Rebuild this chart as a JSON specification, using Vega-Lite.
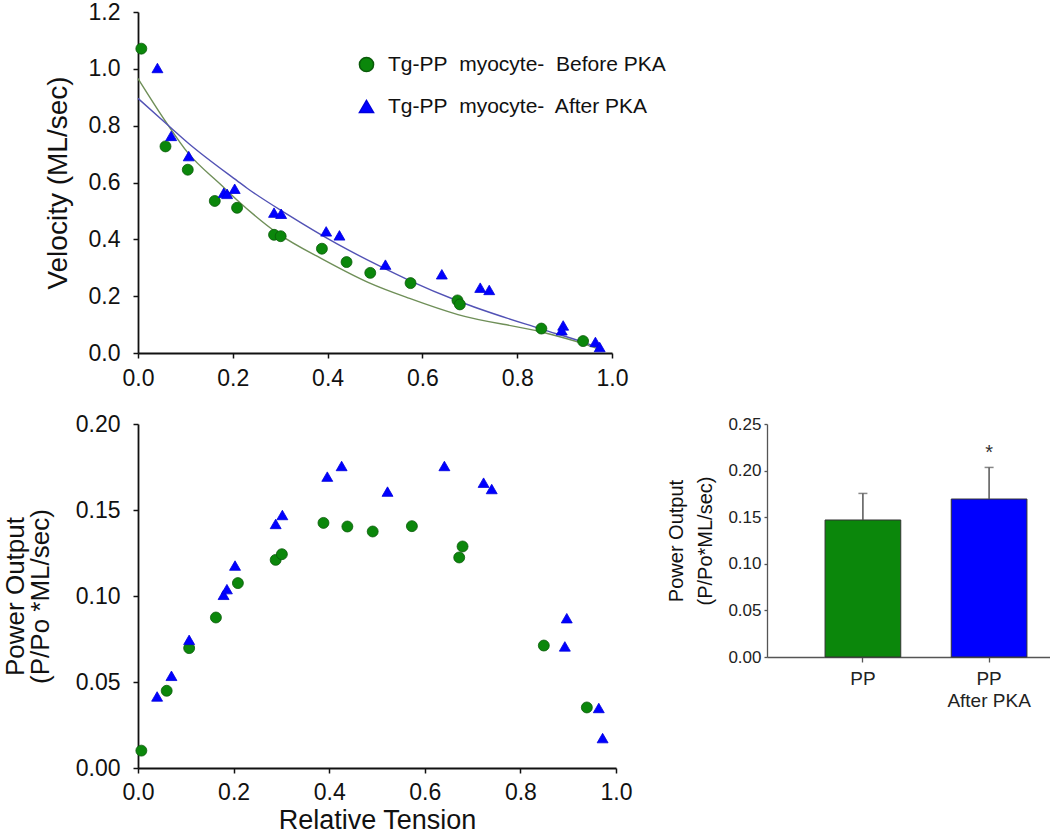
{
  "$schema": "https://vega.github.io/schema/vega-lite/v6.json",
  "background": "white",
  "padding": {"left": 2, "top": 1, "right": 0, "bottom": 0},
  "config": {
    "view": {"stroke": null},
    "font": "Liberation Sans",
    "axis": {
      "grid": false,
      "domainColor": "#111",
      "tickColor": "#111",
      "labelColor": "#111",
      "titleColor": "#111",
      "labelFont": "Liberation Sans",
      "titleFont": "Liberation Sans",
      "titleFontWeight": "normal",
      "labelFontSize": 23,
      "titleFontSize": 28,
      "tickSize": 5,
      "domainWidth": 1.8,
      "tickWidth": 1.5,
      "labelFlush": false
    },
    "legend": {"labelFont": "Liberation Sans"}
  },
  "datasets": {
    "vel": [
      {"t": 0.007, "v": 1.071, "s": "Tg-PP myocyte- Before PKA"},
      {"t": 0.058, "v": 0.727, "s": "Tg-PP myocyte- Before PKA"},
      {"t": 0.105, "v": 0.645, "s": "Tg-PP myocyte- Before PKA"},
      {"t": 0.162, "v": 0.535, "s": "Tg-PP myocyte- Before PKA"},
      {"t": 0.209, "v": 0.511, "s": "Tg-PP myocyte- Before PKA"},
      {"t": 0.287, "v": 0.416, "s": "Tg-PP myocyte- Before PKA"},
      {"t": 0.301, "v": 0.411, "s": "Tg-PP myocyte- Before PKA"},
      {"t": 0.388, "v": 0.367, "s": "Tg-PP myocyte- Before PKA"},
      {"t": 0.440, "v": 0.320, "s": "Tg-PP myocyte- Before PKA"},
      {"t": 0.490, "v": 0.282, "s": "Tg-PP myocyte- Before PKA"},
      {"t": 0.575, "v": 0.246, "s": "Tg-PP myocyte- Before PKA"},
      {"t": 0.674, "v": 0.185, "s": "Tg-PP myocyte- Before PKA"},
      {"t": 0.679, "v": 0.171, "s": "Tg-PP myocyte- Before PKA"},
      {"t": 0.851, "v": 0.086, "s": "Tg-PP myocyte- Before PKA"},
      {"t": 0.939, "v": 0.042, "s": "Tg-PP myocyte- Before PKA"},
      {"t": 0.041, "v": 1.003, "s": "Tg-PP myocyte- After PKA"},
      {"t": 0.070, "v": 0.764, "s": "Tg-PP myocyte- After PKA"},
      {"t": 0.107, "v": 0.693, "s": "Tg-PP myocyte- After PKA"},
      {"t": 0.181, "v": 0.564, "s": "Tg-PP myocyte- After PKA"},
      {"t": 0.188, "v": 0.560, "s": "Tg-PP myocyte- After PKA"},
      {"t": 0.204, "v": 0.578, "s": "Tg-PP myocyte- After PKA"},
      {"t": 0.287, "v": 0.494, "s": "Tg-PP myocyte- After PKA"},
      {"t": 0.302, "v": 0.490, "s": "Tg-PP myocyte- After PKA"},
      {"t": 0.397, "v": 0.428, "s": "Tg-PP myocyte- After PKA"},
      {"t": 0.425, "v": 0.414, "s": "Tg-PP myocyte- After PKA"},
      {"t": 0.522, "v": 0.311, "s": "Tg-PP myocyte- After PKA"},
      {"t": 0.641, "v": 0.277, "s": "Tg-PP myocyte- After PKA"},
      {"t": 0.722, "v": 0.230, "s": "Tg-PP myocyte- After PKA"},
      {"t": 0.741, "v": 0.222, "s": "Tg-PP myocyte- After PKA"},
      {"t": 0.897, "v": 0.097, "s": "Tg-PP myocyte- After PKA"},
      {"t": 0.894, "v": 0.080, "s": "Tg-PP myocyte- After PKA"},
      {"t": 0.965, "v": 0.039, "s": "Tg-PP myocyte- After PKA"},
      {"t": 0.974, "v": 0.021, "s": "Tg-PP myocyte- After PKA"}
    ],
    "pow": [
      {"t": 0.007, "p": 0.0101, "s": "Tg-PP myocyte- Before PKA"},
      {"t": 0.060, "p": 0.0449, "s": "Tg-PP myocyte- Before PKA"},
      {"t": 0.107, "p": 0.0697, "s": "Tg-PP myocyte- Before PKA"},
      {"t": 0.163, "p": 0.0875, "s": "Tg-PP myocyte- Before PKA"},
      {"t": 0.209, "p": 0.1075, "s": "Tg-PP myocyte- Before PKA"},
      {"t": 0.288, "p": 0.1210, "s": "Tg-PP myocyte- Before PKA"},
      {"t": 0.301, "p": 0.1243, "s": "Tg-PP myocyte- Before PKA"},
      {"t": 0.388, "p": 0.1425, "s": "Tg-PP myocyte- Before PKA"},
      {"t": 0.438, "p": 0.1404, "s": "Tg-PP myocyte- Before PKA"},
      {"t": 0.491, "p": 0.1375, "s": "Tg-PP myocyte- Before PKA"},
      {"t": 0.573, "p": 0.1406, "s": "Tg-PP myocyte- Before PKA"},
      {"t": 0.672, "p": 0.1224, "s": "Tg-PP myocyte- Before PKA"},
      {"t": 0.679, "p": 0.1288, "s": "Tg-PP myocyte- Before PKA"},
      {"t": 0.849, "p": 0.0712, "s": "Tg-PP myocyte- Before PKA"},
      {"t": 0.939, "p": 0.0352, "s": "Tg-PP myocyte- Before PKA"},
      {"t": 0.040, "p": 0.0416, "s": "Tg-PP myocyte- After PKA"},
      {"t": 0.070, "p": 0.0536, "s": "Tg-PP myocyte- After PKA"},
      {"t": 0.107, "p": 0.0745, "s": "Tg-PP myocyte- After PKA"},
      {"t": 0.179, "p": 0.1007, "s": "Tg-PP myocyte- After PKA"},
      {"t": 0.186, "p": 0.1040, "s": "Tg-PP myocyte- After PKA"},
      {"t": 0.203, "p": 0.1177, "s": "Tg-PP myocyte- After PKA"},
      {"t": 0.288, "p": 0.1419, "s": "Tg-PP myocyte- After PKA"},
      {"t": 0.302, "p": 0.1471, "s": "Tg-PP myocyte- After PKA"},
      {"t": 0.396, "p": 0.1694, "s": "Tg-PP myocyte- After PKA"},
      {"t": 0.426, "p": 0.1756, "s": "Tg-PP myocyte- After PKA"},
      {"t": 0.522, "p": 0.1607, "s": "Tg-PP myocyte- After PKA"},
      {"t": 0.641, "p": 0.1756, "s": "Tg-PP myocyte- After PKA"},
      {"t": 0.723, "p": 0.1659, "s": "Tg-PP myocyte- After PKA"},
      {"t": 0.740, "p": 0.1622, "s": "Tg-PP myocyte- After PKA"},
      {"t": 0.897, "p": 0.0871, "s": "Tg-PP myocyte- After PKA"},
      {"t": 0.893, "p": 0.0707, "s": "Tg-PP myocyte- After PKA"},
      {"t": 0.964, "p": 0.0349, "s": "Tg-PP myocyte- After PKA"},
      {"t": 0.972, "p": 0.0174, "s": "Tg-PP myocyte- After PKA"}
    ],
    "fitBefore": [
      {"t": 0.0, "v": 0.966},
      {"t": 0.061, "v": 0.808},
      {"t": 0.105, "v": 0.705},
      {"t": 0.175, "v": 0.592},
      {"t": 0.21, "v": 0.537},
      {"t": 0.295, "v": 0.421},
      {"t": 0.393, "v": 0.327},
      {"t": 0.489, "v": 0.246},
      {"t": 0.573, "v": 0.192},
      {"t": 0.675, "v": 0.135},
      {"t": 0.851, "v": 0.074},
      {"t": 0.939, "v": 0.033},
      {"t": 0.975, "v": 0.012}
    ],
    "fitAfter": [
      {"t": 0.0, "v": 0.896},
      {"t": 0.061, "v": 0.805},
      {"t": 0.105, "v": 0.740},
      {"t": 0.21, "v": 0.605},
      {"t": 0.231, "v": 0.579},
      {"t": 0.316, "v": 0.487},
      {"t": 0.421, "v": 0.383},
      {"t": 0.506, "v": 0.309},
      {"t": 0.573, "v": 0.255},
      {"t": 0.675, "v": 0.183},
      {"t": 0.851, "v": 0.084},
      {"t": 0.939, "v": 0.038},
      {"t": 0.98, "v": 0.012}
    ],
    "bars": [
      {"grp": "PP", "mean": 0.147, "upper": 0.1755, "sig": ""},
      {"grp": "PP After PKA", "mean": 0.1695, "upper": 0.2034, "sig": "*"}
    ]
  },
  "resolve": {"scale": {"color": "independent", "shape": "independent", "stroke": "independent"}},
  "bounds": "flush",
  "spacing": 71,
  "vconcat": [
    {
      "width": 474,
      "height": 341,
      "layer": [
        {
          "data": {"name": "fitBefore"},
          "mark": {"type": "line", "interpolate": "monotone", "color": "#6f8f58", "strokeWidth": 1.4},
          "encoding": {
            "x": {"field": "t", "type": "quantitative"},
            "y": {"field": "v", "type": "quantitative"}
          }
        },
        {
          "data": {"name": "fitAfter"},
          "mark": {"type": "line", "interpolate": "monotone", "color": "#5252b5", "strokeWidth": 1.4},
          "encoding": {
            "x": {"field": "t", "type": "quantitative"},
            "y": {"field": "v", "type": "quantitative"}
          }
        },
        {
          "data": {"name": "vel"},
          "mark": {"type": "point", "filled": true, "opacity": 1, "strokeWidth": 0.8},
          "encoding": {
            "x": {
              "field": "t", "type": "quantitative",
              "scale": {"domain": [0, 1], "nice": false, "zero": false},
              "axis": {"title": null, "values": [0, 0.2, 0.4, 0.6, 0.8, 1.0], "format": ".1f", "labelPadding": 9}
            },
            "y": {
              "field": "v", "type": "quantitative",
              "scale": {"domain": [0, 1.2], "nice": false},
              "axis": {"title": "Velocity (ML/sec)", "values": [0, 0.2, 0.4, 0.6, 0.8, 1.0, 1.2], "format": ".1f", "labelPadding": 13, "titlePadding": 16}
            },
            "color": {
              "field": "s", "type": "nominal",
              "scale": {"domain": ["Tg-PP myocyte- Before PKA", "Tg-PP myocyte- After PKA"], "range": ["#0b870b", "#0000ff"]},
              "legend": {
                "title": null, "orient": "none", "legendX": 218, "legendY": 42,
                "labelFontSize": 21, "labelColor": "#111", "symbolSize": 200, "rowPadding": 20,
                "labelOffset": 11, "labelLimit": 500,
                "labelExpr": "replace(replace(datum.label, 'PP ', 'PP\u00a0 '), 'myocyte- ', 'myocyte-\u00a0 ')"
              }
            },
            "shape": {
              "field": "s", "type": "nominal",
              "scale": {"domain": ["Tg-PP myocyte- Before PKA", "Tg-PP myocyte- After PKA"], "range": ["circle", "triangle-up"]}
            },
            "stroke": {
              "field": "s", "type": "nominal",
              "scale": {"domain": ["Tg-PP myocyte- Before PKA", "Tg-PP myocyte- After PKA"], "range": ["#0a5a0a", "#0000dd"]},
              "legend": null
            },
            "size": {"value": 120}
          }
        }
      ]
    },
    {
      "hconcat": [
        {
          "width": 478,
          "height": 344,
          "data": {"name": "pow"},
          "mark": {"type": "point", "filled": true, "opacity": 1, "strokeWidth": 0.8},
          "encoding": {
            "x": {
              "field": "t", "type": "quantitative",
              "scale": {"domain": [0, 1], "nice": false, "zero": false},
              "axis": {"title": "Relative Tension", "titleFontSize": 27, "values": [0, 0.2, 0.4, 0.6, 0.8, 1.0], "format": ".1f", "labelPadding": 8, "titlePadding": 3}
            },
            "y": {
              "field": "p", "type": "quantitative",
              "scale": {"domain": [0, 0.2], "nice": false},
              "axis": {"title": ["Power Output", "(P/Po *ML/sec)"], "titleFontSize": 26, "titleLineHeight": 25, "values": [0, 0.05, 0.1, 0.15, 0.2], "format": ".2f", "labelPadding": 13, "titlePadding": 22}
            },
            "color": {
              "field": "s", "type": "nominal",
              "scale": {"domain": ["Tg-PP myocyte- Before PKA", "Tg-PP myocyte- After PKA"], "range": ["#0b870b", "#0000ff"]},
              "legend": null
            },
            "shape": {
              "field": "s", "type": "nominal",
              "scale": {"domain": ["Tg-PP myocyte- Before PKA", "Tg-PP myocyte- After PKA"], "range": ["circle", "triangle-up"]},
              "legend": null
            },
            "stroke": {
              "field": "s", "type": "nominal",
              "scale": {"domain": ["Tg-PP myocyte- Before PKA", "Tg-PP myocyte- After PKA"], "range": ["#0a5a0a", "#0000dd"]},
              "legend": null
            },
            "size": {"value": 120}
          }
        },
        {
          "width": 318,
          "height": 233,
          "data": {"name": "bars"},
          "encoding": {
            "x": {
              "field": "grp", "type": "nominal", "sort": null,
              "scale": {"paddingInner": 0.4, "paddingOuter": 0.46},
              "axis": {
                "title": null, "labelAngle": 0, "labelFontSize": 19, "labelPadding": 7, "labelLineHeight": 22,
                "domainColor": "#555", "tickColor": "#555", "domainWidth": 1.3, "tickWidth": 1.3, "labelColor": "#222",
                "labelExpr": "datum.label == 'PP After PKA' ? ['PP', 'After PKA'] : datum.label"
              }
            }
          },
          "layer": [
            {
              "mark": {"type": "bar", "stroke": "#333", "strokeWidth": 1},
              "encoding": {
                "y": {
                  "field": "mean", "type": "quantitative",
                  "scale": {"domain": [0, 0.25], "nice": false},
                  "axis": {
                    "title": ["Power Output", "(P/Po*ML/sec)"], "titleFontSize": 20, "titleLineHeight": 29, "titlePadding": 12,
                    "values": [0, 0.05, 0.1, 0.15, 0.2, 0.25], "format": ".2f", "labelFontSize": 17, "labelPadding": 3, "tickSize": 3,
                    "domainColor": "#555", "tickColor": "#555", "domainWidth": 1.3, "tickWidth": 1.3, "labelColor": "#222"
                  }
                },
                "color": {
                  "field": "grp", "type": "nominal", "sort": null,
                  "scale": {"domain": ["PP", "PP After PKA"], "range": ["#087d08", "#0000f5"]},
                  "legend": null
                }
              }
            },
            {
              "mark": {"type": "rule", "color": "#555", "strokeWidth": 1.5},
              "encoding": {
                "y": {"field": "mean", "type": "quantitative"},
                "y2": {"field": "upper"}
              }
            },
            {
              "mark": {"type": "tick", "color": "#555", "thickness": 1.5, "size": 9},
              "encoding": {
                "y": {"field": "upper", "type": "quantitative"}
              }
            },
            {
              "mark": {"type": "text", "fontSize": 20, "baseline": "bottom", "dy": -4, "color": "#333"},
              "encoding": {
                "y": {"field": "upper", "type": "quantitative"},
                "text": {"field": "sig"}
              }
            }
          ]
        }
      ],
      "spacing": 151,
      "bounds": "flush"
    }
  ]
}
